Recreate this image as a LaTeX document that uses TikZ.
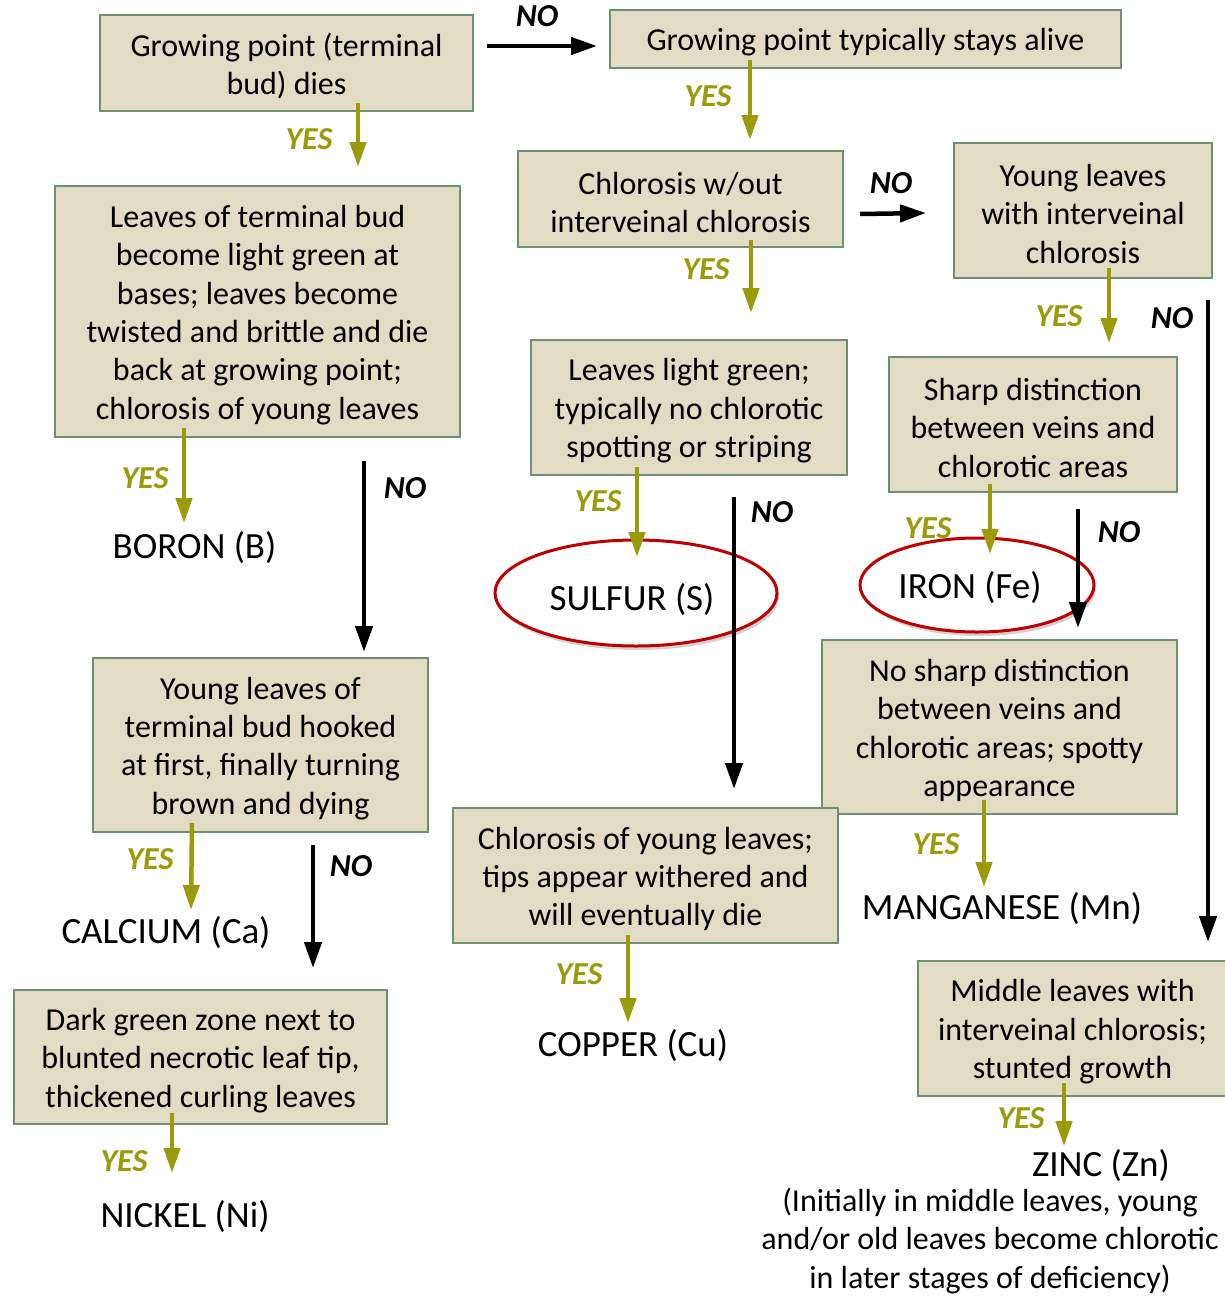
\documentclass[tikz,border=0pt]{standalone}
\usepackage{fontspec}
\setmainfont{Carlito}
\usetikzlibrary{arrows.meta,shapes.geometric,shadows}
\definecolor{boxfill}{RGB}{226,220,197}
\definecolor{boxline}{RGB}{111,143,114}
\definecolor{yescol}{RGB}{155,155,10}
\definecolor{ellred}{RGB}{192,0,0}
\newcommand\bodyfs{\fontsize{32}{38.4}\selectfont}
\newcommand\termfs{\fontsize{37}{44}\selectfont}
\newcommand\labfs{\fontsize{32}{38}\selectfont\bfseries\itshape}
\newcommand\topstrut{\rule{0pt}{29pt}}
\begin{document}
\begin{tikzpicture}[x=1pt,y=-1pt,
  box/.style={draw=boxline, fill=boxfill, line width=2pt, inner sep=0pt, align=center, font=\bodyfs},
  term/.style={font=\termfs, inner sep=0pt, align=center},
  note/.style={font=\bodyfs, inner sep=0pt, align=center},
  ell/.style={ellipse, draw=ellred, line width=3pt, fill=white, inner sep=0pt,
     drop shadow={shadow xshift=2pt, shadow yshift=-4pt, opacity=0.18, fill=black}},
  yesarr/.style={draw=yescol, line width=4.5pt, -{Triangle[length=25pt,width=16pt]}},
  noarr/.style={draw=black, line width=4.5pt, -{Triangle[length=26pt,width=17pt]}},
  yeslab/.style={text=yescol, font=\labfs, inner sep=0pt},
  nolab/.style={text=black, font=\labfs, inner sep=0pt}]
\fill[white] (0,0) rectangle (1225,1296);
\useasboundingbox (0,0) rectangle (1225,1296);

% boxes
\node[box, minimum width=373pt, minimum height=96pt] (A) at (286.5,63) {\topstrut Growing point (terminal\\bud) dies};
\node[box, minimum width=511pt, minimum height=58pt] (B) at (865.5,39) {\topstrut Growing point typically stays alive};
\node[box, minimum width=405pt, minimum height=251pt] (C) at (257.5,311.5) {\topstrut Leaves of terminal bud\\become light green at\\bases; leaves become\\twisted and brittle and die\\back at growing point;\\chlorosis of young leaves};
\node[box, minimum width=325pt, minimum height=96pt] (D) at (680.5,199) {\topstrut Chlorosis w/out\\interveinal chlorosis};
\node[box, minimum width=258pt, minimum height=135pt] (E) at (1083,210.5) {\topstrut Young leaves\\with interveinal\\chlorosis};
\node[box, minimum width=316pt, minimum height=135pt] (F) at (689,407.5) {\topstrut Leaves light green;\\typically no chlorotic\\spotting or striping};
\node[box, minimum width=288pt, minimum height=135pt] (G) at (1033,424.5) {\topstrut Sharp distinction\\between veins and\\chlorotic areas};
\node[box, minimum width=335pt, minimum height=174pt] (H) at (260.5,745) {\topstrut Young leaves of\\terminal bud hooked\\at first, finally turning\\brown and dying};
\node[box, minimum width=355pt, minimum height=174pt] (I) at (999.5,727) {\topstrut No sharp distinction\\between veins and\\chlorotic areas; spotty\\appearance};
\node[box, minimum width=385pt, minimum height=135pt] (J) at (645.5,875.5) {\topstrut Chlorosis of young leaves;\\tips appear withered and\\will eventually die};
\node[box, minimum width=373pt, minimum height=134pt] (K) at (200.5,1057) {\topstrut Dark green zone next to\\blunted necrotic leaf tip,\\thickened curling leaves};
\node[box, minimum width=312pt, minimum height=135pt] (L) at (1074,1028.5) {\topstrut\hspace*{-3pt}Middle leaves with\\\hspace*{-3pt}interveinal chlorosis;\\\hspace*{-3pt}stunted growth};

% ellipses
\node[ell, minimum width=282pt, minimum height=106pt] (Sell) at (636,593) {};
\node[ell, minimum width=234pt, minimum height=94pt] (Feell) at (977,585) {};

% terminal texts
\node[term] (boron) at (194.5,548) {BORON (B)};
\node[term] (calcium) at (166,933) {CALCIUM (Ca)};
\node[term] (nickel) at (185,1217) {NICKEL (Ni)};
\node[term] (sulfur) at (632,600) {SULFUR (S)};
\node[term] (iron) at (970,588) {IRON (Fe)};
\node[term] (mn) at (1002,909) {MANGANESE (Mn)};
\node[term] (copper) at (633,1046) {COPPER (Cu)};
\node[term] (zinc) at (1101,1166) {ZINC (Zn)};
\node[note] (zincnote) at (990,1241) {(Initially in middle leaves, young\\and/or old leaves become chlorotic\\in later stages of deficiency)};

% arrow end coordinates
\coordinate (a1) at (358,103);  \coordinate (a2) at (358,167);
\coordinate (b1) at (750,60);   \coordinate (b2) at (750,140);
\coordinate (d1) at (751,240);  \coordinate (d2) at (751,313);
\coordinate (e1) at (1109,268); \coordinate (e2) at (1109,343);
\coordinate (c1) at (184,428);  \coordinate (c2) at (184,523);
\coordinate (f1) at (637,467);  \coordinate (f2) at (637,557);
\coordinate (g1) at (990,484);  \coordinate (g2) at (990,554);
\coordinate (h1) at (192,823);  \coordinate (h2) at (191,910);
\coordinate (i1) at (984,800);  \coordinate (i2) at (984,887);
\coordinate (j1) at (628,935);  \coordinate (j2) at (628,1023);
\coordinate (k1) at (172,1113); \coordinate (k2) at (172,1173);
\coordinate (l1) at (1064,1083);\coordinate (l2) at (1064,1146);

\coordinate (na1) at (487,46);   \coordinate (na2) at (597,46);
\coordinate (nd1) at (860,214);  \coordinate (nd2) at (926,213);
\coordinate (ne1) at (1208,300); \coordinate (ne2) at (1208,942);
\coordinate (nc1) at (364,461);  \coordinate (nc2) at (364,652);
\coordinate (nf1) at (734,497);  \coordinate (nf2) at (734,789);
\coordinate (ng1) at (1078,509); \coordinate (ng2) at (1078,628);
\coordinate (nh1) at (313,845);  \coordinate (nh2) at (313,968);

% YES arrows
\draw[yesarr] (a1) -- (a2);
\draw[yesarr] (b1) -- (b2);
\draw[yesarr] (d1) -- (d2);
\draw[yesarr] (e1) -- (e2);
\draw[yesarr] (c1) -- (c2);
\draw[yesarr] (f1) -- (f2);
\draw[yesarr] (g1) -- (g2);
\draw[yesarr] (h1) -- (h2);
\draw[yesarr] (i1) -- (i2);
\draw[yesarr] (j1) -- (j2);
\draw[yesarr] (k1) -- (k2);
\draw[yesarr] (l1) -- (l2);

% NO arrows
\draw[noarr] (na1) -- (na2);
\draw[noarr] (nd1) -- (nd2);
\draw[noarr] (ne1) -- (ne2);
\draw[noarr] (nc1) -- (nc2);
\draw[noarr] (nf1) -- (nf2);
\draw[noarr] (ng1) -- (ng2);
\draw[noarr] (nh1) -- (nh2);

% labels
\node[yeslab] (ya) at (309,139) {YES};
\node[yeslab] (yb) at (708,96) {YES};
\node[yeslab] (yd) at (706,269) {YES};
\node[yeslab] (ye) at (1059,316) {YES};
\node[yeslab] (yc) at (145,478) {YES};
\node[yeslab] (yf) at (598,501) {YES};
\node[yeslab] (yg) at (928,528) {YES};
\node[yeslab] (yh) at (150,859) {YES};
\node[yeslab] (yi) at (936,844) {YES};
\node[yeslab] (yj) at (579,974) {YES};
\node[yeslab] (yk) at (124,1161) {YES};
\node[yeslab] (yl) at (1021,1118) {YES};

\node[nolab] (noa) at (537,16) {NO};
\node[nolab] (nod) at (891,183) {NO};
\node[nolab] (noe) at (1172,318) {NO};
\node[nolab] (noc) at (405,488) {NO};
\node[nolab] (nof) at (772,512) {NO};
\node[nolab] (nog) at (1119,532) {NO};
\node[nolab] (noh) at (351,866) {NO};
\end{tikzpicture}
\end{document}
